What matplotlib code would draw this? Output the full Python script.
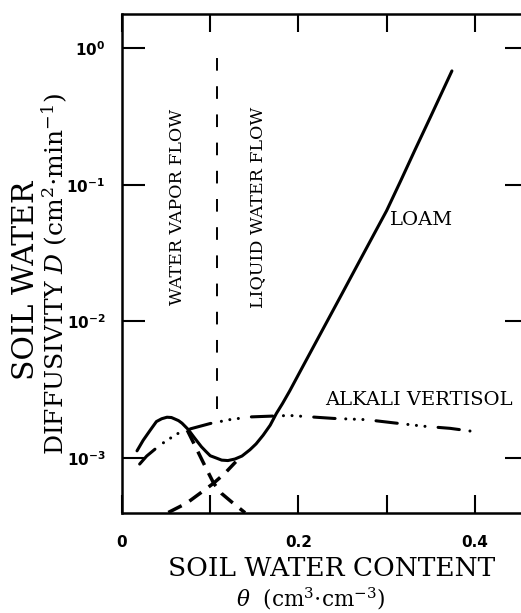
import matplotlib
matplotlib.use("Agg")
import matplotlib.pyplot as plt
from matplotlib.ticker import NullLocator

plt.rcParams["mathtext.fontset"] = "custom"
plt.rcParams["mathtext.rm"] = "DejaVu Serif"
plt.rcParams["mathtext.it"] = "DejaVu Serif:italic"
plt.rcParams["mathtext.bf"] = "DejaVu Sans:bold"

# Soil water content (cm3/cm3) and diffusivity D (cm2/min)
loam_theta = [0.017, 0.024, 0.032, 0.039, 0.045, 0.051, 0.056, 0.060, 0.064,
              0.068, 0.075, 0.082, 0.090, 0.095, 0.100, 0.107, 0.113, 0.120,
              0.128, 0.136, 0.145, 0.152, 0.160, 0.168, 0.175, 0.182, 0.190,
              0.202, 0.215, 0.232, 0.250, 0.270, 0.285, 0.300, 0.316, 0.332,
              0.350, 0.374]
loam_D = [1.13e-3, 1.35e-3, 1.60e-3, 1.85e-3, 1.94e-3, 1.99e-3, 1.98e-3,
          1.93e-3, 1.88e-3, 1.80e-3, 1.62e-3, 1.41e-3, 1.21e-3, 1.12e-3,
          1.04e-3, 1.00e-3, 0.966e-3, 0.959e-3, 0.984e-3, 1.035e-3, 1.15e-3,
          1.27e-3, 1.47e-3, 1.74e-3, 2.12e-3, 2.51e-3, 3.09e-3, 4.31e-3,
          6.17e-3, 9.86e-3, 1.62e-2, 2.82e-2, 4.27e-2, 6.46e-2, 0.107, 0.179,
          0.316, 0.68]

vertisol_theta = [0.020, 0.028, 0.043, 0.062, 0.075, 0.100, 0.122, 0.145,
                  0.172, 0.190, 0.240, 0.277, 0.308, 0.342, 0.372, 0.400]
vertisol_D = [0.904e-3, 1.035e-3, 1.245e-3, 1.50e-3, 1.62e-3, 1.79e-3,
              1.91e-3, 2.00e-3, 2.03e-3, 2.05e-3, 1.95e-3, 1.91e-3, 1.81e-3,
              1.71e-3, 1.65e-3, 1.56e-3]

vapor_theta = [0.074, 0.085, 0.095, 0.104, 0.113, 0.124, 0.1395]
vapor_D = [1.60e-3, 1.15e-3, 0.85e-3, 0.653e-3, 0.55e-3, 0.479e-3, 0.398e-3]

liquid_theta = [0.0525, 0.0733, 0.0884, 0.1036, 0.1168, 0.129]
liquid_D = [0.40e-3, 0.468e-3, 0.552e-3, 0.653e-3, 0.776e-3, 0.94e-3]

# boundary between vapour-dominated and liquid-dominated flow
boundary_theta = 0.108
boundary_D = [2.3e-3, 0.85]

x_ticks = [0, 0.1, 0.2, 0.3, 0.4]
x_tick_labels = ["0", "", "0.2", "", "0.4"]
y_ticks = [1e-3, 1e-2, 1e-1, 1e0]
y_tick_labels = [r"$\mathbf{10^{-3}}$", r"$\mathbf{10^{-2}}$",
                 r"$\mathbf{10^{-1}}$", r"$\mathbf{10^{0}}$"]

fig = plt.figure(figsize=(5.21, 6.13), dpi=100)
ax = fig.add_axes([0.2342, 0.1631, 0.7793, 0.8140])
ax.set_yscale("log")
ax.set_xlim(0, 0.4603)
ax.set_ylim(10 ** -3.402, 10 ** 0.2487)

ax.plot(loam_theta, loam_D, color="black", lw=2.2, solid_capstyle="round",
        solid_joinstyle="round")
ax.plot(vertisol_theta, vertisol_D, color="black", lw=2.2,
        dash_capstyle="round",
        linestyle=(0, (7.0, 3.5, 0.01, 2.8, 0.01, 2.8, 0.01, 4.3)))
ax.plot(vapor_theta, vapor_D, color="black", lw=2.5, linestyle=(0, (4.3, 2.6)))
ax.plot(liquid_theta, liquid_D, color="black", lw=2.5, linestyle=(0, (4.3, 2.6)))
ax.plot([boundary_theta, boundary_theta], boundary_D, color="black", lw=1.4,
        linestyle=(0, (6.5, 8)))

serif = "DejaVu Serif"
ax.text(0.340, 10 ** -1.259, "LOAM", family=serif, fontsize=14,
        ha="center", va="center")
ax.text(0.337, 10 ** -2.576, "ALKALI VERTISOL", family=serif, fontsize=14,
        ha="center", va="center")
ax.text(0.0624, 10 ** -1.164, "WATER VAPOR FLOW", family=serif, fontsize=12.5,
        rotation=90, ha="center", va="center")
ax.text(0.154, 10 ** -1.164, "LIQUID WATER FLOW", family=serif, fontsize=12.5,
        rotation=90, ha="center", va="center")

ax.set_xticks(x_ticks)
ax.set_xticklabels(x_tick_labels)
ax.set_yticks(y_ticks)
ax.set_yticklabels(y_tick_labels)
ax.yaxis.set_minor_locator(NullLocator())
ax.tick_params(axis="x", direction="in", length=13, width=1.5, top=True,
               pad=16, labelsize=11)
ax.tick_params(axis="y", direction="in", length=16.5, width=1.5, right=True,
               pad=12, labelsize=11)
for lab in ax.get_xticklabels() + ax.get_yticklabels():
    lab.set_fontweight("bold")
    lab.set_family("DejaVu Sans")
for s in ax.spines.values():
    s.set_linewidth(1.8)

fig.text(0.637, 0.072, "SOIL WATER CONTENT", family=serif, fontsize=19,
         ha="center", va="center")
fig.text(0.597, 0.024, r"$\theta$  (cm$^3$$\cdot$cm$^{-3}$)", family=serif,
         fontsize=15.5, ha="center", va="center")
fig.text(0.050, 0.543, "SOIL WATER", family=serif, fontsize=21.5,
         rotation=90, ha="center", va="center")
fig.text(0.1056, 0.553, r"DIFFUSIVITY $D$ (cm$^2$$\cdot$min$^{-1}$)",
         family=serif, fontsize=18, rotation=90, ha="center", va="center")

fig.savefig("out.png", dpi=100)
